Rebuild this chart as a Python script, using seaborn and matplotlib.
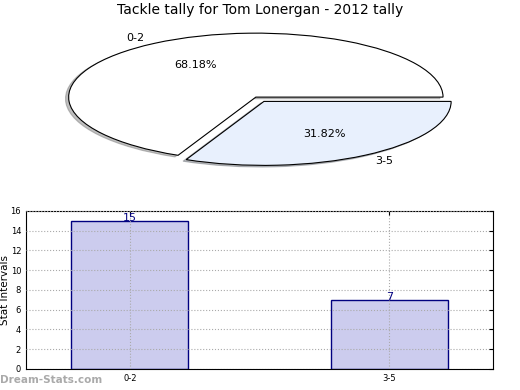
import matplotlib
matplotlib.use("Agg")
import matplotlib.pyplot as plt
import seaborn as sns

# data
intervals = ["0-2", "3-5"]
counts = [15, 7]
pie_colors = ["#ffffff", "#e8f0fd"]
explode = [0.0, 0.08]

sns.set_style("white")
plt.rcParams['font.family'] = ['DejaVu Sans']
plt.rcParams['text.color'] = 'black'
plt.rcParams['axes.labelcolor'] = 'black'
plt.rcParams['xtick.color'] = 'black'
plt.rcParams['ytick.color'] = 'black'

fig = plt.figure(figsize=(5.2, 3.9), dpi=100)

# top: squashed pie with shadow
ax1 = fig.add_axes([0.042, 0.546, 0.9, 0.41])
wedges, texts, autotexts = ax1.pie(counts, labels=intervals, colors=pie_colors,
                                   explode=explode, autopct='%1.2f%%',
                                   startangle=0,
                                   shadow=dict(ox=-0.012, oy=-0.018, shade=0.5),
                                   wedgeprops=dict(edgecolor='black', linewidth=0.8),
                                   textprops=dict(fontsize=8, color='black'))
ax1.set_aspect('auto')
fig.text(0.5, 0.975, "Tackle tally for Tom Lonergan - 2012 tally",
         ha='center', va='center', fontsize=10)

# bottom: bar chart
ax2 = fig.add_axes([0.05, 0.054, 0.898, 0.405])
sns.barplot(x=intervals, y=counts, ax=ax2, color="#ccccee",
            edgecolor="#000080", linewidth=1, width=0.45, saturation=1)
for i, v in enumerate(counts):
    ax2.text(i, v, str(v), ha='center', va='baseline', fontsize=8, color='#000080')
ax2.set_xlim(-0.4, 1.4)
ax2.set_ylim(0, 16)
ax2.set_yticks(range(0, 17, 2))
ax2.grid(True, linestyle=':', color='#aaaaaa', linewidth=0.8)
ax2.set_axisbelow(False)
for s in ax2.spines.values():
    s.set_color('black')
    s.set_linewidth(0.8)
ax2.tick_params(direction='in', right=True, top=True, labelsize=6, length=3)
ax2.set_ylabel("Stat Intervals", fontsize=7.5)
ax2.yaxis.set_label_coords(-0.034, 0.5)
ax2.set_xlabel("Frequency", fontsize=8, labelpad=6)

fig.text(0.0, 0.025, "Dream-Stats.com", fontsize=7.5, color='#aaaaaa',
         ha='left', va='center', fontweight='bold')

fig.savefig("out.png", dpi=100)
